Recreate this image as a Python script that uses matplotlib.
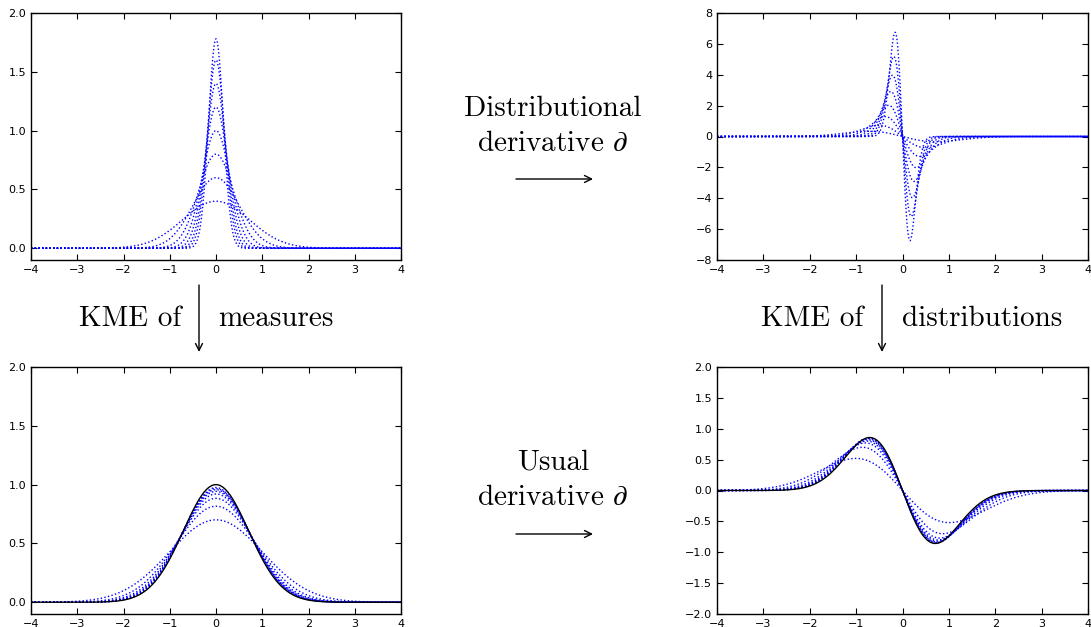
import numpy as np
import matplotlib
matplotlib.use("Agg")
import matplotlib.pyplot as plt

# values
peaks = [0.4, 0.6, 0.8, 1.0, 1.2, 1.4, 1.6, 1.78]              # top-left peak heights
widths = [0.72, 0.5, 0.375, 0.3, 0.25, 0.214, 0.1875, 0.16]    # std of each measure
slope_peaks = [0.52, 0.70, 0.77, 0.80, 0.82, 0.835, 0.845, 0.85]  # bottom-right extrema
x_ticks = [-4, -3, -2, -1, 0, 1, 2, 3, 4]
pos_ticks = [0.0, 0.5, 1.0, 1.5, 2.0]
sym_ticks = [-2.0, -1.5, -1.0, -0.5, 0.0, 0.5, 1.0, 1.5, 2.0]
deriv_ticks = [-8, -6, -4, -2, 0, 2, 4, 6, 8]

plt.rcParams["mathtext.fontset"] = "cm"
plt.rcParams["xtick.direction"] = "in"
plt.rcParams["ytick.direction"] = "in"
plt.rcParams["xtick.top"] = True
plt.rcParams["ytick.right"] = True
plt.rcParams["xtick.labelsize"] = 8
plt.rcParams["ytick.labelsize"] = 8
plt.rcParams["xtick.major.size"] = 4
plt.rcParams["ytick.major.size"] = 4
plt.rcParams["axes.linewidth"] = 1.0

W, H = 1091, 627
fig = plt.figure(figsize = (W / 100, H / 100), dpi = 100)

def box(left, top, right, bottom):
	return [left / W, 1 - bottom / H, (right - left) / W, (bottom - top) / H]

x = np.linspace(-4, 4, 1601)

axTL = fig.add_axes(box(31, 13, 401, 260))
axTR = fig.add_axes(box(717, 13, 1088, 260))
axBL = fig.add_axes(box(31, 367, 401, 614))
axBR = fig.add_axes(box(717, 367, 1088, 614))

for p, s, a in zip(peaks, widths, slope_peaks):
	f = p * np.exp(-x ** 2 / (2 * s ** 2))
	axTL.plot(x, f, "b:", lw = 1)
	axTR.plot(x, -x / s ** 2 * f, "b:", lw = 1)
	# embedding with gaussian kernel exp(-(x-y)^2)
	w = 1 + 2 * s ** 2
	g = np.exp(-x ** 2 / w) / np.sqrt(w)
	axBL.plot(x, g, "b:", lw = 1)
	dg = -x * np.exp(-x ** 2 / w)
	axBR.plot(x, a * dg / np.abs(dg).max(), "b:", lw = 1)

axBL.plot(x, np.exp(-x ** 2), "k-", lw = 1)
axBR.plot(x, -2 * x * np.exp(-x ** 2), "k-", lw = 1)

for ax, yl, yt in ((axTL, (-0.1, 2.0), pos_ticks), (axTR, (-8, 8), deriv_ticks),
		(axBL, (-0.1, 2.0), pos_ticks), (axBR, (-2, 2), sym_ticks)):
	ax.set_xlim(-4, 4)
	ax.set_ylim(*yl)
	ax.set_xticks(x_ticks)
	ax.set_yticks(yt)
	if ax is not axTR:
		ax.set_yticklabels([f"{v:.1f}".replace("-", "\u2212") for v in yt])

# labels and arrows between the panels
over = fig.add_axes([0, 0, 1, 1])
over.set_xlim(0, W)
over.set_ylim(H, 0)
over.axis("off")

txt = dict(fontsize = 21, family = "cmr10", ha = "center", va = "baseline")
over.text(553, 116, "Distributional", **txt)
over.text(553, 151, r"derivative $\partial$", **txt)
over.text(553, 470, "Usual", **txt)
over.text(553, 505, r"derivative $\partial$", **txt)
over.text(130, 326, "KME of", **txt)
over.text(276, 326, "measures", **txt)
over.text(812, 326, "KME of", **txt)
over.text(982, 326, "distributions", **txt)

arrow = dict(arrowstyle = "->,head_length=0.5,head_width=0.25", lw = 1, color = "k", shrinkA = 0, shrinkB = 0)
over.annotate("", xy = (593, 179), xytext = (516, 179), arrowprops = arrow)
over.annotate("", xy = (593, 534), xytext = (516, 534), arrowprops = arrow)
over.annotate("", xy = (199, 352), xytext = (199, 285), arrowprops = arrow)
over.annotate("", xy = (882, 352), xytext = (882, 285), arrowprops = arrow)

fig.savefig("out.png", dpi = 100, facecolor = "white")
